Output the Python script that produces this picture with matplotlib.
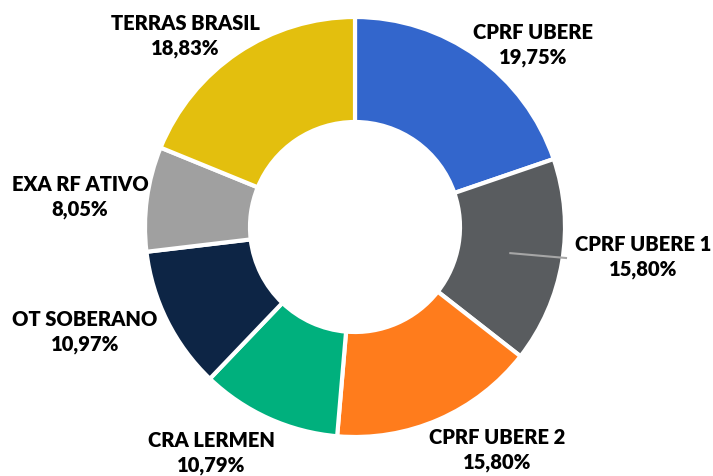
import matplotlib.pyplot as plt
import numpy as np

labels = ['CPRF UBERE', 'CPRF UBERE 1', 'CPRF UBERE 2', 'CRA LERMEN',
          'OT SOBERANO', 'EXA RF ATIVO', 'TERRAS BRASIL']
values = [19.75, 15.80, 15.80, 10.79, 10.97, 8.05, 18.83]
colors = ['#3366CC', '#595C5F', '#FF7C1C', '#00B07D', '#0D2545', '#A0A0A0', '#E3BF0E']

# label positions in pixels (x, y from top)
label_pos = [(533, 45), (643, 257), (497, 450), (211, 453),
             (85, 332), (80, 197), (185, 36)]

W, H = 713, 476
fig = plt.figure(figsize=(W / 100, H / 100), dpi=100)
ax = fig.add_axes([0, 0, 1, 1])

cx, cy, R = 355, H - 227, 210
wedges, _ = ax.pie(values, colors=colors, startangle=90, counterclock=False,
                   center=(cx, cy), radius=R, frame=True,
                   wedgeprops=dict(width=R * 0.5, edgecolor='white', linewidth=3))
ax.set_xlim(0, W)
ax.set_ylim(0, H)
ax.set_aspect('equal')
ax.axis('off')

for lab, v, (px, py) in zip(labels, values, label_pos):
    txt = lab + '\n' + f'{v:.2f}'.replace('.', ',') + '%'
    ax.text(px, H - py, txt, ha='center', va='center', fontsize=14.5,
            fontweight='heavy', family='Lato', linespacing=1.4, color='black')

# leader line for CPRF UBERE 1
w = wedges[1]
mid = np.deg2rad((w.theta1 + w.theta2) / 2)
x0 = cx + 0.75 * R * np.cos(mid)
y0 = cy + 0.75 * R * np.sin(mid)
ax.plot([x0, 566], [y0, H - 258], color='#A6A6A6', lw=1.5)

fig.savefig('out.png', dpi=100, facecolor='white')
